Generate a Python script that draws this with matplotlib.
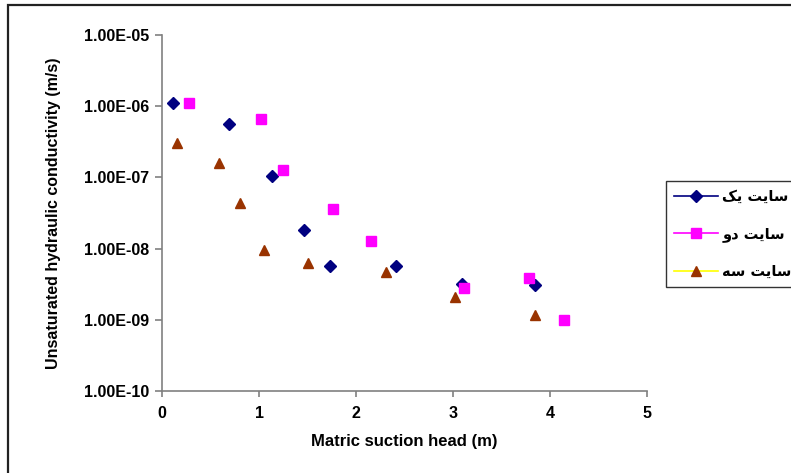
import matplotlib
matplotlib.use("Agg")
import matplotlib.pyplot as plt
from matplotlib.lines import Line2D
from matplotlib.patches import Rectangle
from matplotlib.ticker import FuncFormatter, FixedLocator, NullLocator

# site 1 (navy diamonds)
x1 = [0.11, 0.69, 1.13, 1.46, 1.73, 2.41, 3.09, 3.85]
k1 = [1.1e-6, 5.6e-7, 1.05e-7, 1.8e-8, 5.7e-9, 5.7e-9, 3.2e-9, 3.1e-9]
# site 2 (magenta squares)
x2 = [0.28, 1.02, 1.25, 1.76, 2.15, 3.11, 3.78, 4.14]
k2 = [1.1e-6, 6.6e-7, 1.27e-7, 3.6e-8, 1.28e-8, 2.8e-9, 3.9e-9, 1.0e-9]
# site 3 (brown triangles)
x3 = [0.155, 0.59, 0.80, 1.05, 1.50, 2.31, 3.02, 3.85]
k3 = [3.0e-7, 1.6e-7, 4.4e-8, 9.5e-9, 6.3e-9, 4.7e-9, 2.1e-9, 1.17e-9]

# legend labels (Persian, pre-shaped in visual order so they render joined)
labels = ["\uFB8F\uFBFE \uFE96\uFBFE\uFE8E\uFEB3",   # سایت یک
          "\uFEED\uFEA9 \uFE96\uFBFE\uFE8E\uFEB3",   # سایت دو
          "\uFEEA\uFEB3 \uFE96\uFBFE\uFE8E\uFEB3"]   # سایت سه

yticks = [1e-10, 1e-9, 1e-8, 1e-7, 1e-6, 1e-5]
xticks = [0, 1, 2, 3, 4, 5]

plt.rcParams['font.family'] = ['Liberation Sans', 'DejaVu Sans']
plt.rcParams['font.weight'] = 'bold'

fig = plt.figure(figsize=(7.91, 4.73), dpi=100)
ax = fig.add_axes([162/791, 1-391/473, (647-162)/791, (391-35)/473])

ax.plot(x1, k1, ls='none', marker='D', ms=6.5, color='#000080')
ax.plot(x2, k2, ls='none', marker='s', ms=6.5, color='#FF00FF')
ax.plot(x3, k3, ls='none', marker='^', ms=7.5, color='#993300')

ax.set_yscale('log')
ax.set_ylim(1e-10, 1e-5)
ax.set_xlim(0, 5)
ax.yaxis.set_major_locator(FixedLocator(yticks))
ax.yaxis.set_minor_locator(NullLocator())
ax.yaxis.set_major_formatter(FuncFormatter(lambda v, p: f"{v:.2E}"))
ax.set_xticks(xticks)

for s in ['top', 'right']:
    ax.spines[s].set_visible(False)
for s in ['left', 'bottom']:
    ax.spines[s].set_color('#808080')
    ax.spines[s].set_linewidth(1.2)
ax.tick_params(axis='both', colors='#808080', labelcolor='black', labelsize=11.5,
               width=1.2, length=5, pad=4)
ax.tick_params(axis='x', length=4, pad=7)

ax.set_xlabel('Matric suction head (m)', fontsize=12, fontweight='bold', labelpad=9)
ax.set_ylabel('Unsaturated hydraulic conductivity (m/s)', fontsize=11.5,
              fontweight='bold', labelpad=17)

handles = [
    Line2D([], [], color='#000080', marker='D', ms=6.5, lw=1.2),
    Line2D([], [], color='#FF00FF', marker='s', ms=6.5, lw=1.2, markeredgecolor='#FF00FF'),
    Line2D([], [], color='#FFFF00', marker='^', ms=7.5, lw=1.2,
           markerfacecolor='#993300', markeredgecolor='#993300'),
]
leg = fig.legend(handles, labels, loc='upper left',
                 bbox_to_anchor=(666/791, 1-181/473), bbox_transform=fig.transFigure,
                 prop={'family': 'DejaVu Sans', 'weight': 'bold', 'size': 10.5},
                 frameon=True, fancybox=False, handlelength=3.0, handletextpad=0.3,
                 labelspacing=1.5, borderpad=0.55, borderaxespad=0)
leg.get_frame().set_edgecolor('black')
leg.get_frame().set_linewidth(1.0)

# outer chart border (left and top visible)
fig.add_artist(Rectangle((8/791, -0.01), 1.0, 1 - 5/473 + 0.01, transform=fig.transFigure,
                         fill=False, edgecolor='#222222', linewidth=1.6))

fig.savefig('out.png', dpi=100)
